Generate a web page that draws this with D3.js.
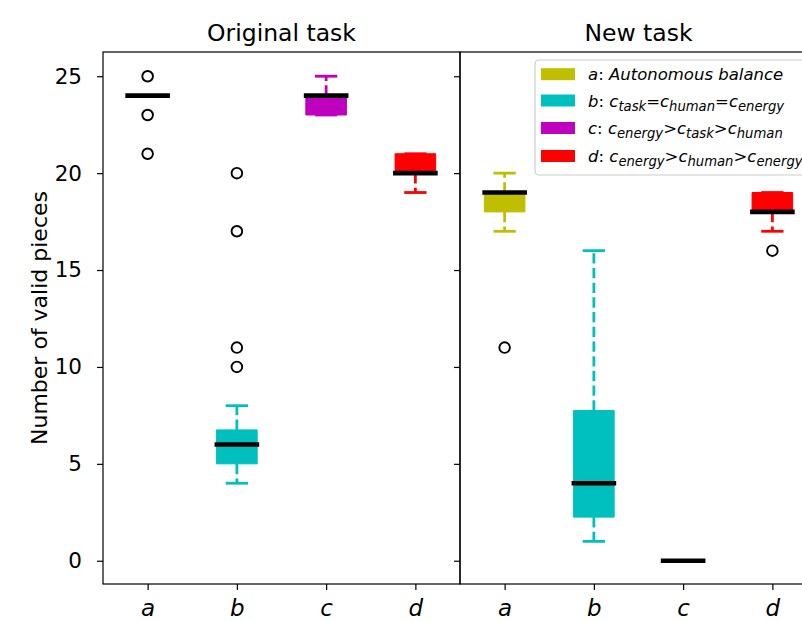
<!DOCTYPE html>
<html><head><meta charset="utf-8">
<script src="https://cdn.jsdelivr.net/npm/d3@7"></script>
<style>body{margin:0;background:#fff;} svg{display:block;font-family:"DejaVu Sans",sans-serif;}</style>
</head><body><svg id="c" width="802" height="622"></svg>
<script>
const categories = ["a", "b", "c", "d"];
const colors = ["#bfbf00", "#00bfbf", "#bf00bf", "#ff0000"];
const panelTitles = ["Original task", "New task"];
const yTicks = [0, 5, 10, 15, 20, 25];

// Original task
const origQ1 = [24, 5, 23, 20];
const origMedian = [24, 6, 24, 20];
const origQ3 = [24, 6.75, 24, 21];
const origLow = [24, 4, 23, 19];
const origHigh = [24, 8, 25, 21];
const origOutliers = [[25, 23, 21], [20, 17, 11, 10], [], []];

// New task
const newQ1 = [18, 2.25, 0, 18];
const newMedian = [19, 4, 0, 18];
const newQ3 = [19, 7.75, 0, 19];
const newLow = [17, 1, 0, 17];
const newHigh = [20, 16, 0, 19];
const newOutliers = [[11], [], [], [16]];

const panels = [
  {q1: origQ1, med: origMedian, q3: origQ3, lo: origLow, hi: origHigh, out: origOutliers, x0: 103, x1: 460},
  {q1: newQ1, med: newMedian, q3: newQ3, lo: newLow, hi: newHigh, out: newOutliers, x0: 460, x1: 817}
];

const svg = d3.select("#c");
const y = d3.scaleLinear().domain([-1.2, 26.25]).range([584, 52]);

panels.forEach((p, pi) => {
  const x = d3.scaleLinear().domain([0.5, 4.5]).range([p.x0, p.x1]);
  const g = svg.append("g");
  const ux = x(1) - x(0);
  const boxW = 0.455 * ux, medW = 0.5 * ux, capW = 0.25 * ux;
  categories.forEach((c, i) => {
    const cx = x(i + 1);
    [[p.q1[i], p.lo[i]], [p.q3[i], p.hi[i]]].forEach(([a, b]) => {
      if (a !== b) g.append("line").attr("x1", cx).attr("x2", cx).attr("y1", y(a)).attr("y2", y(b))
        .attr("stroke", colors[i]).attr("stroke-width", 2.8).attr("stroke-dasharray", "10.3,4.4");
    });
    [p.lo[i], p.hi[i]].forEach(v => {
      g.append("line").attr("x1", cx - capW / 2).attr("x2", cx + capW / 2).attr("y1", y(v)).attr("y2", y(v))
        .attr("stroke", colors[i]).attr("stroke-width", 2.8);
    });
    if (p.q3[i] > p.q1[i]) {
      g.append("rect").attr("x", cx - boxW / 2).attr("width", boxW)
        .attr("y", y(p.q3[i])).attr("height", y(p.q1[i]) - y(p.q3[i]))
        .attr("fill", colors[i]).attr("stroke", colors[i]).attr("stroke-width", 1).attr("stroke-linejoin", "round");
    }
    g.append("line").attr("x1", cx - medW / 2).attr("x2", cx + medW / 2).attr("y1", y(p.med[i])).attr("y2", y(p.med[i]))
      .attr("stroke", "#000").attr("stroke-width", 4.6);
    p.out[i].forEach(v => {
      g.append("circle").attr("cx", cx).attr("cy", y(v)).attr("r", 5.3)
        .attr("fill", "none").attr("stroke", "#000").attr("stroke-width", 1.9);
    });
  });
  g.append("rect").attr("x", p.x0).attr("y", 52).attr("width", p.x1 - p.x0).attr("height", 532)
    .attr("fill", "none").attr("stroke", "#000").attr("stroke-width", 1.2);
  const xa = g.append("g").attr("transform", "translate(0,584)")
    .call(d3.axisBottom(x).tickValues([1, 2, 3, 4]).tickFormat(d => categories[d - 1]).tickSize(6).tickPadding(4));
  xa.select(".domain").remove();
  xa.selectAll("line").attr("stroke-width", 1.2);
  xa.selectAll("text").attr("y", 32).attr("dy", 0).attr("font-size", 23).attr("font-style", "italic")
    .attr("font-family", "DejaVu Sans").attr("fill", "#000");
  const ya = g.append("g").attr("transform", `translate(${p.x0},0)`)
    .call(d3.axisLeft(y).tickValues(yTicks).tickSize(6).tickPadding(15).tickFormat(pi === 0 ? d3.format("d") : () => ""));
  ya.select(".domain").remove();
  ya.selectAll("line").attr("stroke-width", 1.2);
  ya.selectAll("text").attr("font-size", 21.5).attr("font-family", "DejaVu Sans").attr("fill", "#000");
  g.append("text").attr("x", (p.x0 + p.x1) / 2).attr("y", 40.5).attr("text-anchor", "middle")
    .attr("font-size", 23.5).text(panelTitles[pi]);
});

svg.append("text").attr("transform", "translate(47,318) rotate(-90)").attr("text-anchor", "middle")
  .attr("font-size", 22).text("Number of valid pieces");

const legendLabels = [
  [["a", "i"], [": ", "n"], ["Autonomous balance", "i"]],
  [["b", "i"], [": ", "n"], ["c", "i"], ["task", "s"], ["=", "n"], ["c", "i"], ["human", "s"], ["=", "n"], ["c", "i"], ["energy", "s"]],
  [["c", "i"], [": ", "n"], ["c", "i"], ["energy", "s"], [">", "n"], ["c", "i"], ["task", "s"], [">", "n"], ["c", "i"], ["human", "s"]],
  [["d", "i"], [": ", "n"], ["c", "i"], ["energy", "s"], [">", "n"], ["c", "i"], ["human", "s"], [">", "n"], ["c", "i"], ["energy", "s"]]
];
const lg = svg.append("g");
lg.append("rect").attr("x", 535).attr("y", 60).attr("width", 290).attr("height", 115).attr("rx", 4)
  .attr("fill", "#fff").attr("fill-opacity", 0.8).attr("stroke", "#cccccc").attr("stroke-width", 1.2);
const rowY = [74.2, 100.5, 128, 156];
legendLabels.forEach((parts, i) => {
  lg.append("rect").attr("x", 541).attr("y", rowY[i] - 6).attr("width", 34).attr("height", 12).attr("fill", colors[i]);
  const t = lg.append("text").attr("x", 588).attr("y", rowY[i] + 6).attr("font-size", 16.5).attr("xml:space", "preserve");
  let sub = false;
  parts.forEach(([s, k]) => {
    const ts = t.append("tspan").text(s);
    if (k === "i" || k === "s") ts.attr("font-style", "italic");
    if (k === "s") { ts.attr("font-size", 13.2).attr("dy", sub ? 0 : 4); sub = true; }
    else { if (sub) ts.attr("dy", -4); sub = false; }
  });
});
</script></body></html>
